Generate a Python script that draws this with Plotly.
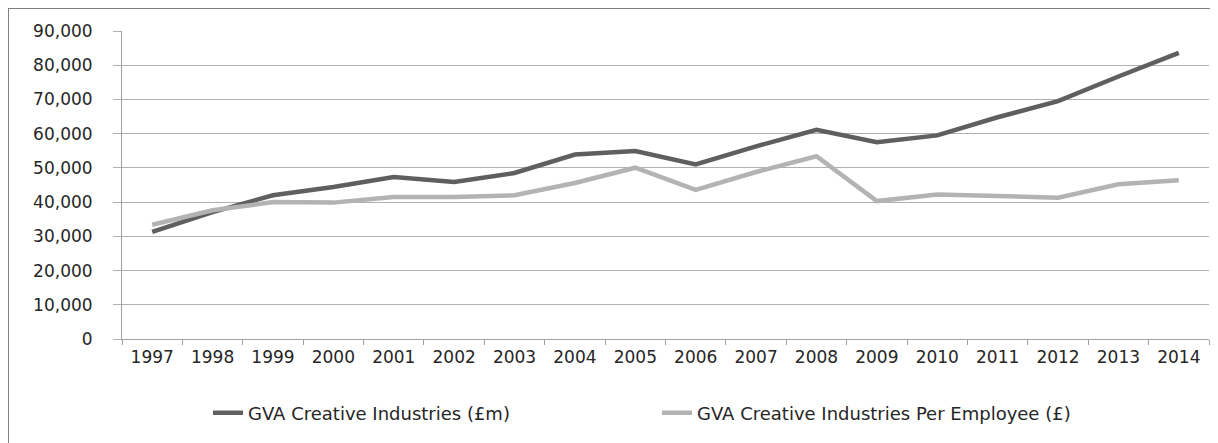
import plotly.graph_objects as go

years = [str(y) for y in range(1997, 2015)]
gva_total = [31300, 37100, 42000, 44400, 47300, 45900, 48500, 53900, 54900,
             51000, 56300, 61100, 57500, 59500, 64800, 69500, 76700, 83600]
gva_per_emp = [33400, 37600, 40000, 39850, 41500, 41500, 42000, 45600, 50050,
               43600, 48800, 53400, 40300, 42200, 41800, 41300, 45200, 46400]
name_total = "GVA Creative Industries (£m)"
name_per = "GVA Creative Industries Per Employee (£)"

FONT = "DejaVu Sans"
TXT = "#262626"
# plot area in page pixels: x 122..1209, y 31..339 (page has 8px body margin)
PL, PR, PT, PB = 122, 1209, 31, 339
W = PR - PL
H = PB - PT


def px(x):
    return (x - PL) / W


def py(y):
    return (PB - y) / H


fig = go.Figure()
fig.add_trace(go.Scatter(x=years, y=gva_total, mode="lines", name=name_total,
                         line=dict(color="#5f5f5f", width=4.5), legend="legend"))
fig.add_trace(go.Scatter(x=years, y=gva_per_emp, mode="lines", name=name_per,
                         line=dict(color="#b3b3b3", width=4.5), legend="legend2"))

legend_common = dict(orientation="h", yanchor="middle", xanchor="left",
                     font=dict(family=FONT, size=18, color=TXT),
                     itemwidth=30, bgcolor="rgba(0,0,0,0)")

fig.update_layout(
    width=1218, height=443,
    margin=dict(l=PL - 8, r=1218 - PR + 8, t=PT - 8, b=443 - PB + 8),
    paper_bgcolor="white", plot_bgcolor="white",
    font=dict(family=FONT, size=17, color=TXT),
    showlegend=True,
    legend=dict(x=px(208), y=py(413), **legend_common),
    legend2=dict(x=px(657), y=py(413), **legend_common),
    xaxis=dict(type="category", range=[-0.5, 17.5], showgrid=False,
               showline=True, linecolor="#a0a0a0", linewidth=1,
               ticks="outside", tickson="boundaries", ticklen=5, tickcolor="#a0a0a0",
               ticklabelstandoff=3,
               tickfont=dict(family=FONT, size=17, color=TXT)),
    yaxis=dict(range=[0, 90000], tickvals=list(range(0, 90001, 10000)),
               tickformat=",d", showgrid=True, gridcolor="#b0b0b0", gridwidth=1,
               showline=True, linecolor="#a0a0a0", linewidth=1, zeroline=False,
               ticks="outside", ticklen=8, tickcolor="#b0b0b0",
               ticklabelstandoff=17,
               tickfont=dict(family=FONT, size=17, color=TXT)),
    shapes=[dict(type="rect", xref="paper", yref="paper",
                 x0=px(8), x1=px(1240), y0=py(470), y1=py(8),
                 line=dict(color="#808080", width=2), fillcolor="rgba(0,0,0,0)",
                 layer="below")],
)
fig.write_html("out.html")
